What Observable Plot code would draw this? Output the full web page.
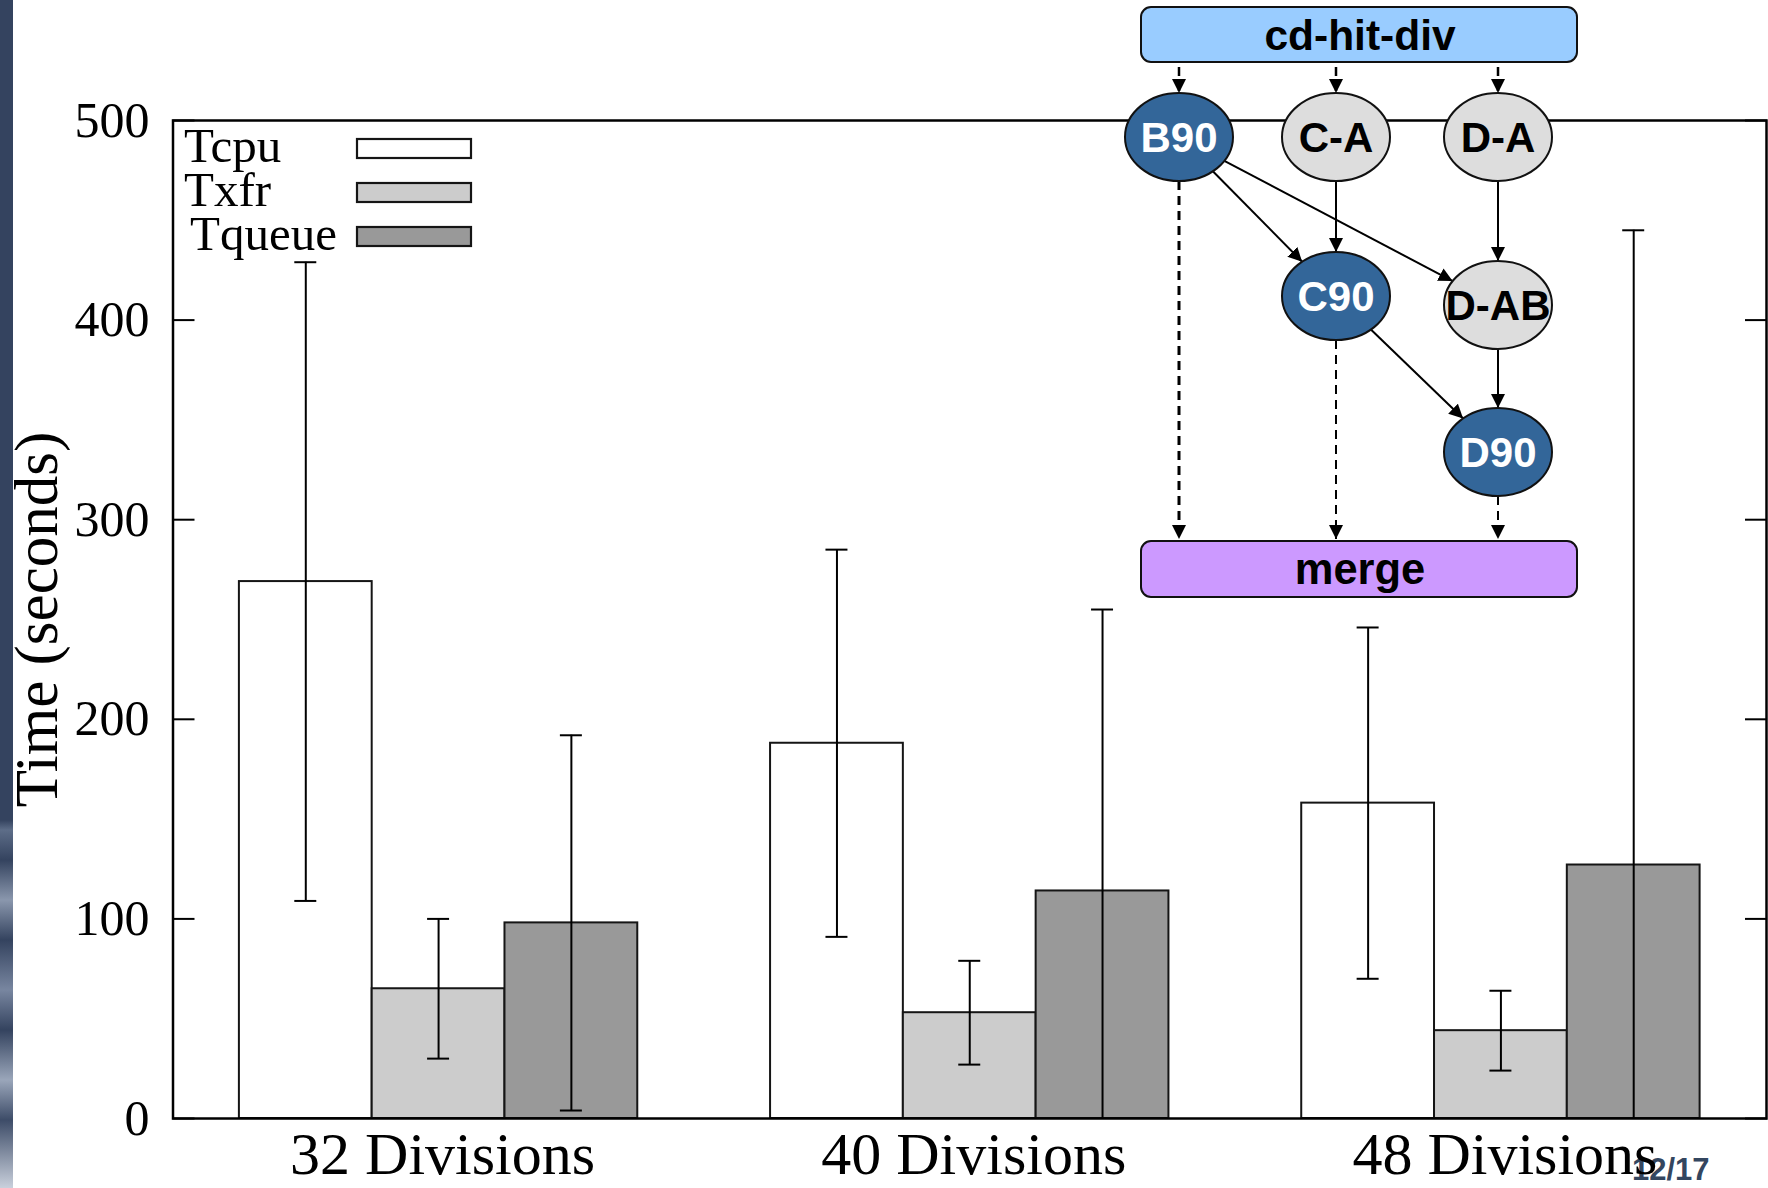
<!DOCTYPE html>
<html><head><meta charset="utf-8">
<script src="https://cdn.jsdelivr.net/npm/d3@7"></script>
<script src="https://cdn.jsdelivr.net/npm/@observablehq/plot@0.6"></script>
<style>
html,body{margin:0;padding:0;background:#fff;}
#wrap{position:relative;width:1768px;height:1188px;overflow:hidden;background:#fff;}
#strip{position:absolute;left:0;top:0;width:13px;height:1188px;
  background:linear-gradient(to bottom,#34435f 0,#34435f 820px,#5d6d88 830px,#34435f 860px,#8a97ad 900px,#34435f 940px,#7886a0 990px,#34435f 1030px,#9aa6ba 1080px,#3d4c68 1120px,#c9d0dc 1188px);}
#page{position:absolute;left:1632px;top:1152px;font:bold 31px "Liberation Sans",Arial,sans-serif;color:#34465f;}
#chart{position:absolute;left:0;top:0;}
#overlay{position:absolute;left:0;top:0;pointer-events:none;}
</style></head>
<body><div id="wrap"><div id="strip"></div><div id="page">12/17</div><div id="chart"></div><div id="overlay"></div></div>
<script>
// ---- data ----
const groups = ["32 Divisions", "40 Divisions", "48 Divisions"];
const series = ["Tcpu", "Txfr", "Tqueue"];
const colors = ["#ffffff", "#cccccc", "#999999"];
const tcpu = [269, 188, 158];
const tcpuErr = [160, 97, 88];
const txfr = [65, 53, 44];
const txfrErr = [35, 26, 20];
const tqueue = [98, 114, 127];
const tqueueErr = [94, 141, 318];
const yTicks = [0, 100, 200, 300, 400, 500];
const yLabel = "Time (seconds)";

// diagram content
const nodeNames = ["B90", "C-A", "D-A", "C90", "D-AB", "D90"];
const darkNodes = ["B90", "C90", "D90"];
const topBox = "cd-hit-div";
const bottomBox = "merge";

// ---- build table ----
const values = [tcpu, txfr, tqueue];
const errs = [tcpuErr, txfrErr, tqueueErr];
const rows = [];
const xDomain = [];
groups.forEach((g, gi) => {
  series.forEach((s, si) => {
    const key = g + "|" + s;
    xDomain.push(key);
    rows.push({group: g, series: s, key, value: values[si][gi], err: errs[si][gi]});
  });
  if (gi < groups.length - 1) xDomain.push(" gap" + gi);
});
const midKeys = groups.map(g => g + "|" + series[1]);
const lo = d => d.value - d.err;
const hi = d => d.value + d.err;

const chart = Plot.plot({
  width: 1768,
  height: 1188,
  marginLeft: 172.5,
  marginRight: 2,
  marginTop: 120,
  marginBottom: 70,
  style: {background: "transparent", fontFamily: "Liberation Serif, Times New Roman, serif", color: "#000"},
  x: {type: "band", domain: xDomain, paddingInner: 0, paddingOuter: 0.5, round: false},
  y: {domain: [0, 500]},
  color: {domain: series, range: colors},
  marks: [
    Plot.barY(rows, {x: "key", y: "value", fill: "series", stroke: "#151515", strokeWidth: 2}),
    Plot.ruleX(rows, {x: "key", y1: lo, y2: hi, stroke: "#000", strokeWidth: 2, clip: "frame"}),
    Plot.tickY(rows, {x: "key", y: hi, stroke: "#000", strokeWidth: 2, inset: 55.4}),
    Plot.tickY(rows.filter(d => lo(d) >= 0), {x: "key", y: lo, stroke: "#000", strokeWidth: 2, inset: 55.4}),
    Plot.axisY({ticks: yTicks, anchor: "left", tickSize: -22, fill: "none", stroke: "#000", strokeWidth: 2, label: null}),
    Plot.axisY({ticks: yTicks, anchor: "right", tickSize: -22, fill: "none", stroke: "#000", strokeWidth: 2, label: null}),
    Plot.axisY({ticks: yTicks, anchor: "left", tickSize: 0, tickPadding: 23.5, fontSize: 50, label: null, fill: "#000"}),
    Plot.axisX({ticks: midKeys, tickFormat: k => k.split("|")[0], tickSize: 0, tickPadding: 13, dx: 4, fontSize: 60, label: null, fill: "#000"}),
    Plot.text([yLabel], {frameAnchor: "left", textAnchor: "middle", rotate: -90, dx: -136, fontSize: 61, fill: "#000"}),
    Plot.frame({stroke: "#000", strokeWidth: 2.5})
  ]
});
document.getElementById("chart").appendChild(chart);

// ---- overlay: legend + workflow diagram ----
const svg = d3.select("#overlay").append("svg")
  .attr("width", 1768).attr("height", 1188)
  .attr("viewBox", "0 0 1768 1188");

// legend
const leg = svg.append("g").attr("font-family", "Liberation Serif, Times New Roman, serif").attr("font-size", 49);
series.forEach((s, i) => {
  const base = 162 + i * 44;
  leg.append("text").attr("x", 184 + (i === 2 ? 6 : 0)).attr("y", base).attr("fill", "#000").text(s);
  leg.append("rect").attr("x", 357).attr("y", base - 23).attr("width", 114).attr("height", 19)
    .attr("fill", colors[i]).attr("stroke", "#151515").attr("stroke-width", 2.2);
});

// diagram
const defs = svg.append("defs");
defs.append("marker").attr("id", "ah").attr("viewBox", "0 0 14 14").attr("refX", 14).attr("refY", 7)
  .attr("markerWidth", 14).attr("markerHeight", 14).attr("markerUnits", "userSpaceOnUse").attr("orient", "auto")
  .append("path").attr("d", "M0,0L14,7L0,14z").attr("fill", "#000");

const RX = 54, RY = 44;
const pos = {"B90": [1179, 137], "C-A": [1336, 137], "D-A": [1498, 137], "C90": [1336, 296], "D-AB": [1498, 305], "D90": [1498, 452]};
const boxX = 1141, boxW = 436;
const topY = 7, topH = 55, botY = 541, botH = 56;

const g = svg.append("g");
function edgePts(a, b) {
  const [ax, ay] = pos[a], [bx, by] = pos[b];
  const dx = bx - ax, dy = by - ay;
  const t = 1 / Math.sqrt((dx / RX) ** 2 + (dy / RY) ** 2);
  return [ax + t * dx, ay + t * dy, bx - t * dx, by - t * dy];
}
function line(x1, y1, x2, y2, dashed, w) {
  g.append("line").attr("x1", x1).attr("y1", y1).attr("x2", x2).attr("y2", y2)
    .attr("stroke", "#000").attr("stroke-width", w || 2)
    .attr("stroke-dasharray", dashed ? "9,6" : null)
    .attr("marker-end", "url(#ah)");
}
// dashed from top box
["B90", "C-A", "D-A"].forEach(n => line(pos[n][0], topY + topH + 5, pos[n][0], pos[n][1] - RY, true, 2.5));
// solid dependencies
[["C-A", "C90"], ["D-A", "D-AB"], ["B90", "C90"], ["B90", "D-AB"], ["C90", "D90"], ["D-AB", "D90"]].forEach(([a, b]) => {
  const p = edgePts(a, b);
  line(p[0], p[1], p[2], p[3], false, 2);
});
// dashed into merge
[["B90", 3], ["C90", 2], ["D90", 2]].forEach(([n, w]) => line(pos[n][0], pos[n][1] + RY, pos[n][0], botY - 2, true, w));

// boxes
[[topBox, topY, topH, "#99ccff", 42.5], [bottomBox, botY, botH, "#cc99ff", 43.5]].forEach(([label, y, h, fill, fs]) => {
  g.append("rect").attr("x", boxX).attr("y", y).attr("width", boxW).attr("height", h).attr("rx", 10)
    .attr("fill", fill).attr("stroke", "#111").attr("stroke-width", 2);
  g.append("text").attr("x", boxX + boxW / 2 + 1).attr("y", y + h / 2 + 15)
    .attr("text-anchor", "middle").attr("font-family", "Liberation Sans, Arial, sans-serif")
    .attr("font-weight", "bold").attr("font-size", fs).attr("fill", "#000").text(label);
});
// nodes
nodeNames.forEach(n => {
  const dark = darkNodes.includes(n);
  g.append("ellipse").attr("cx", pos[n][0]).attr("cy", pos[n][1]).attr("rx", RX).attr("ry", RY)
    .attr("fill", dark ? "#336699" : "#dddddd").attr("stroke", "#111").attr("stroke-width", 2);
  g.append("text").attr("x", pos[n][0]).attr("y", pos[n][1] + 15)
    .attr("text-anchor", "middle").attr("font-family", "Liberation Sans, Arial, sans-serif")
    .attr("font-weight", "bold").attr("font-size", 42).attr("fill", dark ? "#fff" : "#000").text(n);
});
</script>
</body></html>
